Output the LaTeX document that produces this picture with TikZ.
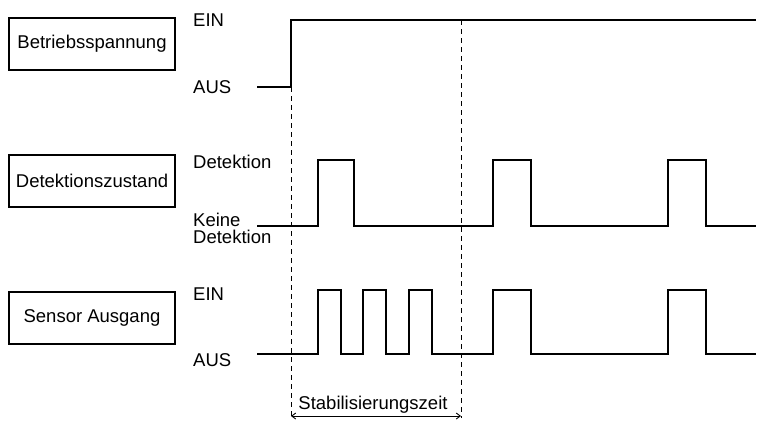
\documentclass[tikz,border=0pt]{standalone}
\usepackage{fontspec}
\setmainfont{Liberation Sans}
\usetikzlibrary{arrows.meta}
\begin{document}
\begin{tikzpicture}[x=1pt,y=-1pt,
  box/.style={draw,line width=1.3pt,minimum width=166pt,minimum height=52pt,inner sep=0pt,
    font=\fontsize{18.5}{20}\selectfont},
  lvl/.style={anchor=west,inner sep=0pt,align=left,font=\fontsize{18.5}{17}\selectfont},
  wave/.style={line width=1.8pt,line join=miter},
  guide/.style={line width=0.9pt,dash pattern=on 5pt off 4pt},
  span/.style={line width=0.9pt,{Straight Barb[length=4pt,width=6pt]}-{Straight Barb[length=4pt,width=6pt]}},
]
\useasboundingbox (0,0) rectangle (757,421);

% signal names
\node[box] (pwr) at (92,44) {Betriebsspannung};
\node[box] (det) at (92,181) {Detektionszustand};
\node[box] (out) at (92,318) {Sensor Ausgang};

% level labels
\node[lvl] (pwrOn)  at (193,20) {EIN};
\node[lvl] (pwrOff) at (193,87) {AUS};
\node[lvl] (detOn)  at (193,162) {Detektion};
\node[lvl] (detOff) at (193,228) {Keine\\Detektion};
\node[lvl] (outOn)  at (193,294) {EIN};
\node[lvl] (outOff) at (193,360) {AUS};

% time markers
\coordinate (t0) at (291,87);
\coordinate (t1) at (461,20);
\coordinate (b0) at (291,418);
\coordinate (b1) at (461,418);
\coordinate (a0) at (291,416);
\coordinate (a1) at (461,416);

% supply voltage
\draw[wave] (257,87) -- (291,87) -- (291,20) -- (756,20);

% detection state
\draw[wave] (257,226) -- (318,226) -- (318,160) -- (354,160) -- (354,226)
  -- (493,226) -- (493,160) -- (531,160) -- (531,226)
  -- (668,226) -- (668,160) -- (706,160) -- (706,226) -- (756,226);

% sensor output
\draw[wave] (257,354) -- (318,354) -- (318,290) -- (341,290) -- (341,354)
  -- (363,354) -- (363,290) -- (386,290) -- (386,354)
  -- (409,354) -- (409,290) -- (432,290) -- (432,354)
  -- (493,354) -- (493,290) -- (531,290) -- (531,354)
  -- (668,354) -- (668,290) -- (706,290) -- (706,354) -- (756,354);

% stabilisation period
\draw[guide] (t0) -- (b0);
\draw[guide] (t1) -- (b1);
\draw[span] (a0) -- (a1);
\node[inner sep=0pt,font=\fontsize{18.5}{20}\selectfont] (stab) at (373,405) {Stabilisierungszeit};
\end{tikzpicture}
\end{document}
